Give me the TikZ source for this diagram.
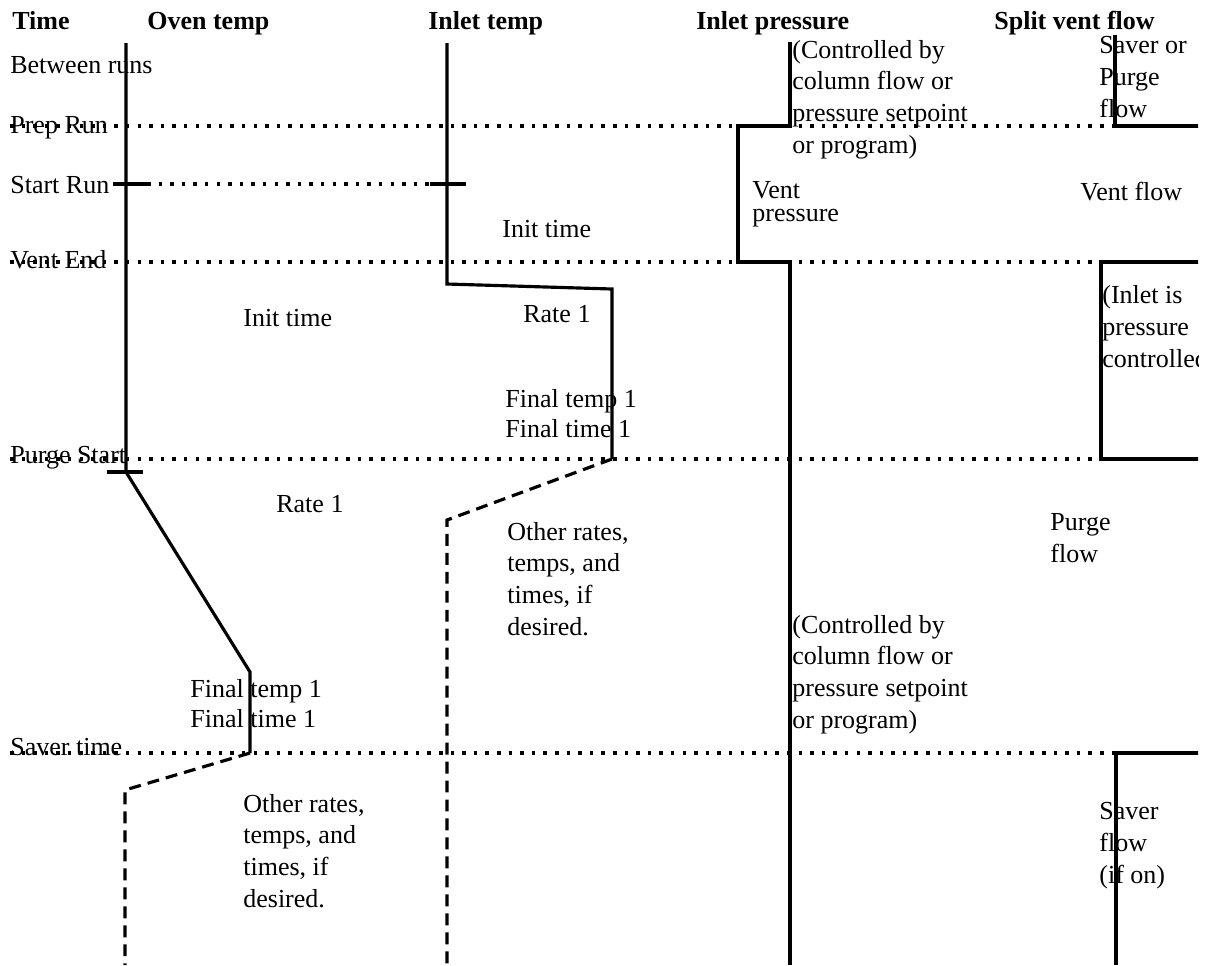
\documentclass[tikz,border=0pt]{standalone}
\usepackage{fontspec}
\setmainfont{Liberation Serif}
\begin{document}
\begin{tikzpicture}[x=0.02cm,y=-0.02cm,font=\fontsize{14.8}{18}\selectfont,
	trace/.style={line width=1.8pt},
	later/.style={line width=1.8pt,dash pattern=on 6.8pt off 4pt},
	event/.style={line width=2pt,dash pattern=on 2pt off 4.6pt},
	lbl/.style={anchor=base west,inner sep=0pt,align=left},
	hdr/.style={lbl,font=\fontsize{14.8}{18}\selectfont\bfseries}]
	\useasboundingbox (0,0) rectangle (1214,965);
	\clip (0,0) rectangle (1198,965);
	% column heads
	\node[hdr] (hTime) at (12,29) {Time};
	\node[hdr] (hOven) at (147,29) {Oven temp};
	\node[hdr] (hInT) at (428,29) {Inlet temp};
	\node[hdr] (hInP) at (696,29) {Inlet pressure};
	\node[hdr] (hSplit) at (994,29) {Split vent flow};
	% time events
	\node[lbl] (between) at (10,73) {Between runs};
	\node[lbl] (prep) at (10,133) {Prep Run};
	\node[lbl] (start) at (10,193) {Start Run};
	\node[lbl] (ventend) at (10,268) {Vent End};
	\node[lbl] (purge) at (10,463) {Purge Start};
	\node[lbl] (saver) at (10,755) {Saver time};
	% oven temp (multi-line nodes sit on their last line)
	\node[lbl] (ovInit) at (243,326) {Init time};
	\node[lbl] (ovRate) at (276,512) {Rate 1};
	\node[lbl,font=\fontsize{14.8}{17}\selectfont] (ovFinal) at (190,727) {Final temp 1\\Final time 1};
	\node[lbl] (ovOther) at (243,907) {Other rates,\\temps, and\\times, if\\desired.};
	% inlet temp
	\node[lbl] (itInit) at (502,237) {Init time};
	\node[lbl] (itRate) at (523,322) {Rate 1};
	\node[lbl,font=\fontsize{14.8}{17}\selectfont] (itFinal) at (505,437) {Final temp 1\\Final time 1};
	\node[lbl] (itOther) at (507,635) {Other rates,\\temps, and\\times, if\\desired.};
	% inlet pressure
	\node[lbl] (ipCtrlA) at (792,153) {(Controlled by\\column flow or\\pressure setpoint\\or program)};
	\node[lbl,font=\fontsize{14.8}{13}\selectfont] (ipVent) at (752,221) {Vent\\pressure};
	\node[lbl] (ipCtrlB) at (792,728) {(Controlled by\\column flow or\\pressure setpoint\\or program)};
	% split vent flow
	\node[lbl] (svSavPur) at (1099,117) {Saver or\\Purge\\flow};
	\node[lbl] (svVent) at (1080,200) {Vent flow};
	\node[lbl] (svInlet) at (1102,367) {(Inlet is\\pressure\\controlled};
	\node[lbl] (svPurge) at (1050,562) {Purge\\flow};
	\node[lbl] (svSaver) at (1099,883) {Saver\\flow\\(if on)};
	% dotted event lines
	\draw[event] (10,126) -- (1115,126);
	\draw[event] (147,184) -- (430,184);
	\draw[event] (10,262) -- (1101,262);
	\draw[event] (10,459) -- (1101,459);
	\draw[event] (10,753) -- (1116,753);
	% oven trace
	\draw[trace] (126,43) -- (126,472) -- (250,672) -- (250,753);
	\draw[trace] (113,184) -- (147,184);
	\draw[trace] (107,472) -- (143,472);
	\draw[later] (250,753) -- (125,790) -- (125,965);
	% inlet temp trace
	\draw[trace] (447,43) -- (447,284) -- (612,289) -- (612,459);
	\draw[trace] (430,184) -- (466,184);
	\draw[later] (612,459) -- (447,520) -- (447,965);
	% inlet pressure trace
	\draw[trace] (790,42) -- (790,126) -- (738,126) -- (738,262) -- (790,262) -- (790,965);
	% split vent trace
	\draw[trace] (1115,35) -- (1115,126) -- (1214,126);
	\draw[trace] (1214,262) -- (1101,262) -- (1101,459) -- (1214,459);
	\draw[trace] (1214,753) -- (1116,753) -- (1116,965);
\end{tikzpicture}
\end{document}
